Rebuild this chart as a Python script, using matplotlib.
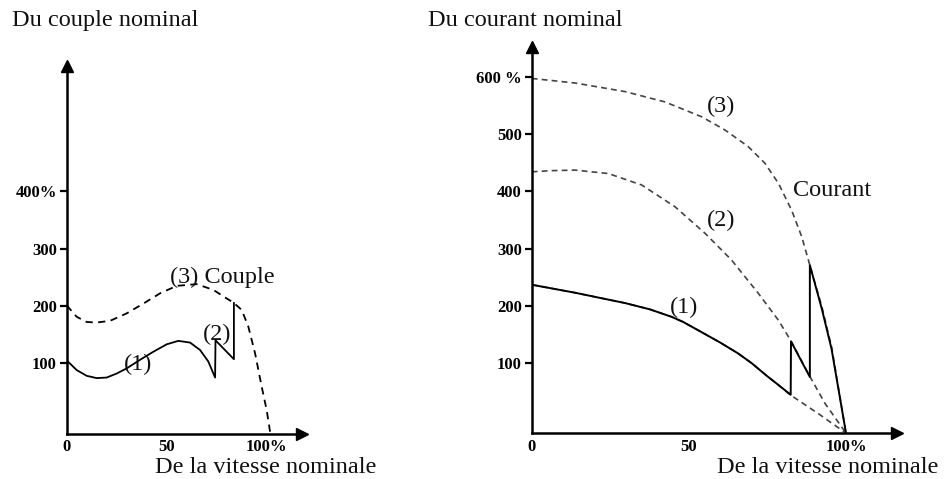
import matplotlib
matplotlib.use("Agg")
import matplotlib.pyplot as plt

plt.rcParams['font.family'] = ['Liberation Serif', 'DejaVu Serif']

# ---------------- data: left panel (torque, % of nominal) ----------------
couple_x_ticks = [0, 50, 100]
couple_x_labels = ["0", "50", "100%"]
couple_y_ticks = [100, 200, 300, 400]
couple_y_labels = ["100", "200", "300", "400%"]

couple3_speed = [0, 5, 10, 15, 21.7, 30, 38.3, 46.7, 55, 65, 73.3, 80, 83.3, 87.5,
                 90.8, 94.2, 97.5, 100, 101.7]
couple3_value = [201, 181, 172, 171, 174, 187, 204, 222, 235, 238, 228, 213, 206, 193,
                 164, 117, 59, 18, -20]

couple1_speed = [0, 5, 10, 15, 20, 25, 30, 36.7, 43.3, 50, 55.8, 61.7, 66.7, 70.8, 74.2,
                 74.4, 83.6, 83.6]
couple1_value = [105, 88, 78, 74, 75, 82, 91, 106, 120, 133, 139, 136, 123, 103, 75,
                 140, 107, 205]

# ---------------- data: right panel (current, % of nominal) ----------------
courant_x_ticks = [0, 50, 100]
courant_x_labels = ["0", "50", "100%"]
courant_y_ticks = [100, 200, 300, 400, 500, 600]
courant_y_labels = ["100", "200", "300", "400", "500", "600 %"]

courant3_speed = [0, 13.8, 29.7, 42.4, 54.1, 61.5, 68.9, 74.2, 78.5, 82.7, 85.9, 88.5,
                  92.3, 95.4, 100]
courant3_value = [597, 589, 574, 556, 530, 507, 478, 449, 414, 367, 321, 271,
                  199, 129, -22]

courant2_speed = [0, 6, 13.8, 24.4, 35, 45.6, 55.1, 63.6, 72.1, 78.5, 82.7, 88, 93.3, 100]
courant2_value = [434, 436, 437, 431, 411, 373, 327, 280, 222, 175, 137, 82, 30, -22]

courant1_speed = [0, 13.8, 21.7, 29.7, 37.6, 44.5, 48.2, 55.1, 60, 65.7, 70, 74.8, 78.5,
                  82.2, 91.2, 100]
courant1_value = [237, 223, 214, 205, 194, 181, 172, 151, 136, 117, 100, 78, 62,
                  45, 12, -22]

actual_speed = [0, 13.8, 21.7, 29.7, 37.6, 44.5, 48.2, 55.1, 60, 65.7, 70, 74.8, 78.5,
                82.4, 82.5, 88.5, 88.5, 92.3, 95.4, 100]
actual_value = [237, 223, 214, 205, 194, 181, 172, 151, 136, 117, 100, 78, 62,
                45, 138, 76, 271, 195, 125, -22]

W, H = 944, 479
fig = plt.figure(figsize=(W / 100, H / 100), dpi=100)


def px_axes(x0, x1, ytop, ybot):
    return fig.add_axes([x0 / W, (H - ybot) / H, (x1 - x0) / W, (ybot - ytop) / H])


def style_axes(ax, xt, xl, yt, yl):
    for s in ("top", "right"):
        ax.spines[s].set_visible(False)
    for s in ("left", "bottom"):
        ax.spines[s].set_linewidth(1.8)
        ax.spines[s].set_color("black")
    ax.set_xticks(xt)
    ax.set_xticklabels(xl, fontsize=12, fontweight="bold")
    ax.set_yticks(yt)
    ax.set_yticklabels(yl, fontsize=12, fontweight="bold")
    ax.tick_params(axis="x", length=0, pad=4)
    ax.tick_params(axis="y", length=5, width=1.6, pad=2, direction="out")
    ax.patch.set_alpha(0)
    ax.plot(1, 0, marker=">", color="black", markersize=9, transform=ax.transAxes, clip_on=False)
    ax.plot(0, 1, marker="^", color="black", markersize=9, transform=ax.transAxes, clip_on=False)


# left axes
axL = px_axes(66.7, 302.0, 66.0, 433.7)
axL.set_xlim(0, (302.0 - 66.7) / 2.0)
axL.set_ylim(-23, (420.5 - 66.0) / 0.573)
style_axes(axL, couple_x_ticks, couple_x_labels, couple_y_ticks, couple_y_labels)
axL.plot(couple3_speed, couple3_value, color="black", lw=1.3, ls=(0, (4, 3)))
axL.plot(couple1_speed, couple1_value, color="black", lw=1.3)

# right axes
sx = 3.143
axR = px_axes(531.7, 897.0, 47.0, 433.3)
axR.set_xlim(0, (897.0 - 531.7) / sx)
axR.set_ylim(-22.3, (420.5 - 47.0) / 0.573)
style_axes(axR, courant_x_ticks, courant_x_labels, courant_y_ticks, courant_y_labels)
dash = (0, (3.5, 2.5))
axR.plot(courant3_speed, courant3_value, color="#444444", lw=1.2, ls=dash)
axR.plot(courant2_speed, courant2_value, color="#444444", lw=1.2, ls=dash)
axR.plot(courant1_speed, courant1_value, color="#444444", lw=1.2, ls=dash)
axR.plot(actual_speed, actual_value, color="black", lw=1.4)

fs = 17.5
txt = dict(fontsize=fs, color="#111111", va="baseline", ha="left")


def ftext(x, y, s):
    fig.text(x / W, (H - y) / H, s, **txt)


ftext(11.7, 26, "Du couple nominal")
ftext(428.3, 26, "Du courant nominal")
ftext(155, 473, "De la vitesse nominale")
ftext(716.7, 473, "De la vitesse nominale")
ftext(170, 283, "(3) Couple")
ftext(203.3, 340, "(2)")
ftext(124, 370, "(1)")
ftext(706.7, 112, "(3)")
ftext(706.7, 226, "(2)")
ftext(670, 313, "(1)")
ftext(792.7, 196, "Courant")

fig.savefig("out.png", dpi=100)
